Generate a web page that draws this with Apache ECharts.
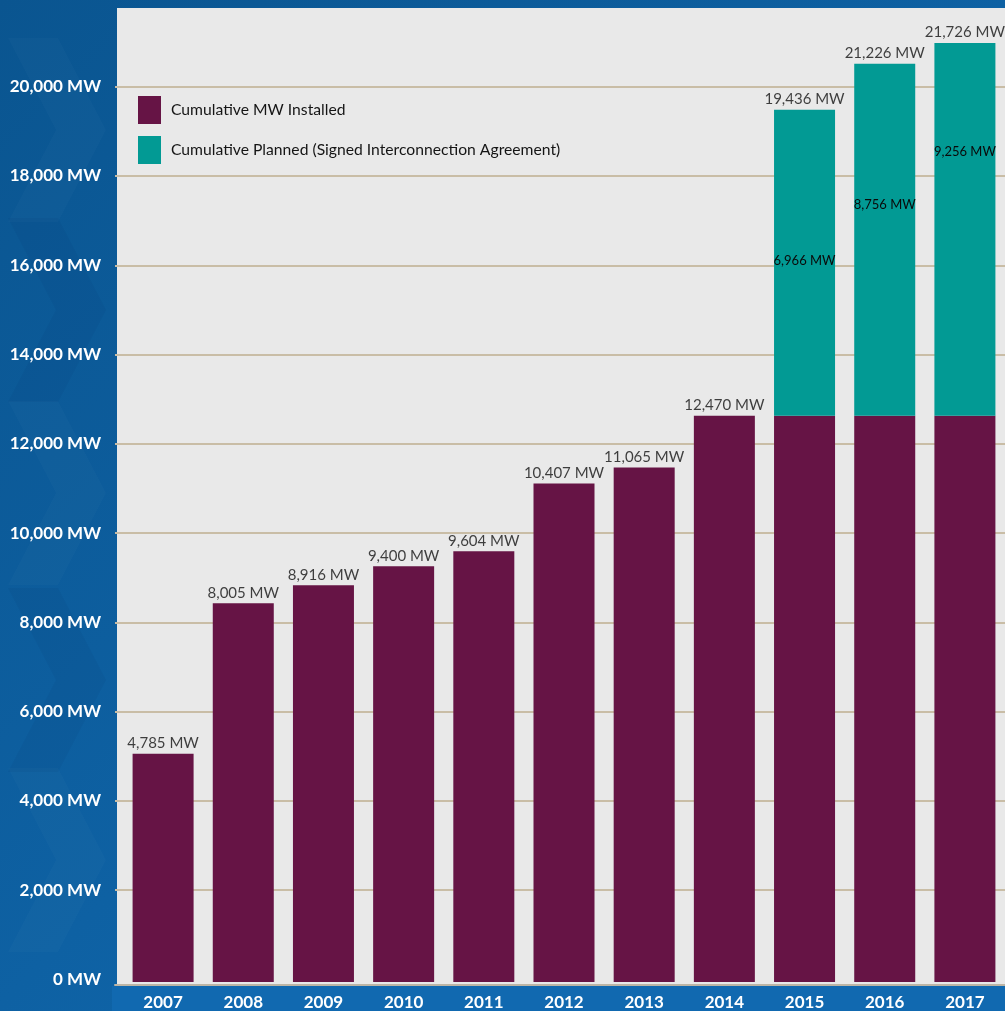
<!DOCTYPE html>
<html>
<head>
<meta charset="utf-8">
<script src="https://cdn.jsdelivr.net/npm/echarts@6/dist/echarts.min.js"></script>
<style>
html,body{margin:0;padding:0;overflow:hidden;background:#0b5a95;}
#chart{width:1005px;height:1011px;}
</style>
</head>
<body>
<div id="chart"></div>
<script>
// ---- data ----
const years = ['2007','2008','2009','2010','2011','2012','2013','2014','2015','2016','2017'];
// bar heights as drawn (MW)
const installedMW = [5007, 8389, 8793, 9218, 9554, 11077, 11436, 12601, 12601, 12601, 12601];
const plannedMW = ['-', '-', '-', '-', '-', '-', '-', '-', 6877, 7907, 8378];
// values printed on the chart (MW)
const totalLabelsMW = [4785, 8005, 8916, 9400, 9604, 10407, 11065, 12470, 19436, 21226, 21726];
const plannedLabelsMW = [null, null, null, null, null, null, null, null, 6966, 8756, 9256];
const yLabelValues = [0, 2000, 4000, 6000, 8000, 10000, 12000, 14000, 16000, 18000, 20000];
const seriesNames = ['Cumulative MW Installed', 'Cumulative Planned (Signed Interconnection Agreement)'];

// ---- styling ----
const PURPLE = '#661445';
const TEAL = '#029a94';
const innerLabelDy = [0, 0, 0, 0, 0, 0, 0, 0, 151, 141, 109];
const fmt = v => v.toLocaleString('en-US') + ' MW';
const Y_MIN = -123, Y_MAX = 21763;

const totals = installedMW.map((v, i) => v + (plannedMW[i] === '-' ? 0 : plannedMW[i]));

function chevron(cy, fill) {
  return {
    type: 'polygon', z: -9, silent: true,
    shape: { points: [[8, cy - 92], [58, cy - 92], [106, cy], [58, cy + 92], [8, cy + 92], [56, cy]] },
    style: { fill: fill }
  };
}

const chart = echarts.init(document.getElementById('chart'), null, { renderer: 'canvas' });
chart.setOption({
  animation: false,
  textStyle: { fontFamily: 'Lato' },
  graphic: [
    { type: 'rect', z: -10, silent: true, shape: { x: 0, y: 0, width: 1005, height: 1011 },
      style: { fill: new echarts.graphic.LinearGradient(0, 0, 1, 1, [
        { offset: 0, color: '#0a5590' }, { offset: 1, color: '#126db6' }]) } },
    chevron(130, 'rgba(255,255,255,0.018)'),
    chevron(310, 'rgba(0,30,80,0.06)'),
    chevron(493, 'rgba(255,255,255,0.018)'),
    chevron(680, 'rgba(0,30,80,0.06)'),
    chevron(860, 'rgba(255,255,255,0.018)'),
    { type: 'rect', z: -8, silent: true, shape: { x: 112, y: 986, width: 893, height: 25 },
      style: { fill: '#1169b0' } },
    { type: 'rect', z: -8, silent: true, shape: { x: 117, y: 8, width: 888, height: 977 },
      style: { fill: '#e9e9e9' } }
  ],
  legend: {
    orient: 'vertical', left: 138, top: 96, padding: 0,
    itemWidth: 23, itemHeight: 28, itemGap: 12,
    icon: 'rect',
    textStyle: { fontSize: 15.7, color: '#151515', fontFamily: 'Lato', padding: [0, 0, 0, 5] },
    data: seriesNames
  },
  grid: [
    { left: 115, top: 8, width: 896, height: 977 },
    { left: 123, top: 8, width: 888, height: 977 }
  ],
  xAxis: [
    { type: 'category', gridIndex: 0, data: years, z: 5,
      axisLine: { onZero: false, lineStyle: { color: '#bdb5a6', width: 2 } },
      axisTick: { show: false }, axisLabel: { show: false }, splitLine: { show: false } },
    { type: 'category', gridIndex: 1, data: years,
      axisLine: { show: false }, axisTick: { show: false },
      axisLabel: { color: '#ffffff', fontSize: 17, fontWeight: 'bold', margin: 12, verticalAlign: 'top' } }
  ],
  yAxis: [
    { type: 'value', gridIndex: 0, min: Y_MIN, max: Y_MAX,
      axisLine: { show: false },
      axisTick: { show: false, customValues: yLabelValues.slice(1) },
      axisLabel: { customValues: yLabelValues, color: '#ffffff', fontSize: 17, fontWeight: 'bold', margin: 14,
        formatter: v => fmt(v) },
      splitLine: { show: true, lineStyle: { color: '#c9bda6', width: 2 } } },
    { type: 'value', gridIndex: 1, min: Y_MIN, max: Y_MAX, startValue: Y_MIN, show: false, splitLine: { show: false } }
  ],
  series: [
    { name: seriesNames[0], type: 'bar', xAxisIndex: 1, yAxisIndex: 1, stack: 'mw',
      barWidth: 61, itemStyle: { color: PURPLE }, data: installedMW },
    { name: seriesNames[1], type: 'bar', xAxisIndex: 1, yAxisIndex: 1, stack: 'mw',
      barWidth: 61, itemStyle: { color: TEAL },
      data: plannedMW.map((v, i) => ({
        value: v,
        label: { show: plannedLabelsMW[i] != null, position: ['50%', innerLabelDy[i]],
          align: 'center', verticalAlign: 'middle',
          formatter: () => fmt(plannedLabelsMW[i]), fontSize: 13, color: '#0a0a0a' }
      })) },
    { name: 'totals', type: 'scatter', xAxisIndex: 1, yAxisIndex: 1, symbolSize: 0, silent: true,
      data: totals,
      label: { show: true, position: 'top', distance: 3, fontSize: 15, color: '#111111',
        formatter: p => fmt(totalLabelsMW[p.dataIndex]) } }
  ]
});
</script>
</body>
</html>
